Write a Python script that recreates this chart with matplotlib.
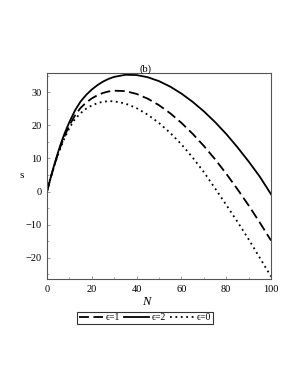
import matplotlib
matplotlib.use("Agg")
import matplotlib.pyplot as plt
from matplotlib.ticker import MultipleLocator

N = [0, 1, 2, 3, 4, 5, 6, 7, 8, 10, 12.5, 15, 17.5, 20, 22.5, 25, 27.5, 30, 35, 40, 45, 50,
     55, 60, 65, 70, 75, 80, 85, 90, 95, 100]
s_eps1 = [0, 2.6, 5.0, 7.3, 9.5, 11.6, 13.5, 15.3, 17.0, 20.0, 23.0, 25.27, 26.88,
          28.13, 29.08, 29.78, 30.23, 30.46, 30.33, 29.48, 28.04, 26.08, 23.64, 20.75, 17.46, 13.79,
          9.78, 5.41, 0.74, -4.17, -9.36, -14.78]
s_eps2 = [0, 2.6, 5.1, 7.5, 9.8, 12.0, 14.1, 16.0, 17.8, 21.0, 24.5, 27.2, 29.20,
          30.81, 32.13, 33.20, 34.03, 34.63, 35.26, 35.18, 34.52, 33.34, 31.69, 29.59, 27.10, 24.24,
          21.00, 17.40, 13.40, 9.10, 4.50, -0.80]
s_eps0 = [0, 2.6, 5.0, 7.2, 9.3, 11.3, 13.1, 14.8, 16.4, 19.2, 21.9, 23.68, 25.02,
          26.01, 26.69, 27.12, 27.30, 27.26, 26.58, 25.19, 23.21, 20.71, 17.72, 14.28, 10.30, 5.90,
          1.00, -4.00, -9.10, -14.40, -20.00, -25.64]
labels = ["ϵ=1", "ϵ=2", "ϵ=0"]

plt.rcParams['font.family'] = ['Liberation Serif', 'DejaVu Serif']

fig = plt.figure(figsize=(3.0, 3.88), dpi=100)
ax = fig.add_axes([47/300, 1-279/388, (271-47)/300, (279-73)/388])

l1, = ax.plot(N, s_eps1, color='black', lw=1.3, linestyle=(0, (5.5, 2.5)))
l2, = ax.plot(N, s_eps2, color='black', lw=1.3, linestyle='-')
l0, = ax.plot(N, s_eps0, color='black', lw=1.3, linestyle=(0, (1, 2)))

ax.set_xlim(0, 100)
ax.set_ylim(-26.4, 35.8)
ax.xaxis.set_major_locator(MultipleLocator(20))
ax.xaxis.set_minor_locator(MultipleLocator(10))
ax.yaxis.set_major_locator(MultipleLocator(10))
ax.yaxis.set_minor_locator(MultipleLocator(5))
ax.tick_params(which='both', direction='in', labelsize=7.5, color='#888888')
ax.tick_params(which='major', length=2.5, width=0.6, pad=4)
ax.tick_params(which='minor', length=1.5, width=0.5)
for sp in ax.spines.values():
    sp.set_color('#555555')
    sp.set_linewidth(0.8)

ax.set_yticks([-20, -10, 0, 10, 20, 30])
ax.set_yticklabels(['\u221220', '\u221210', '0', '10', '20', '30'])

fig.text(22/300, 1-176/388, 's', fontsize=8, ha='center', va='center')
fig.text(146/300, 1-302/388, 'N', fontsize=9, style='italic', ha='center', va='center')
fig.text(146/300, 1-69/388, '(b)', fontsize=7.5, ha='center', va='center')

leg = fig.legend([l1, l2, l0], labels, loc='center', bbox_to_anchor=(145/300, 1-318/388),
                 ncol=3, fontsize=7, frameon=True, fancybox=False, edgecolor='black',
                 handlelength=2.5, handletextpad=0.3, columnspacing=0.4, borderpad=0.2,
                 borderaxespad=0)
leg.get_frame().set_linewidth(0.8)

fig.savefig('out.png', dpi=100)
